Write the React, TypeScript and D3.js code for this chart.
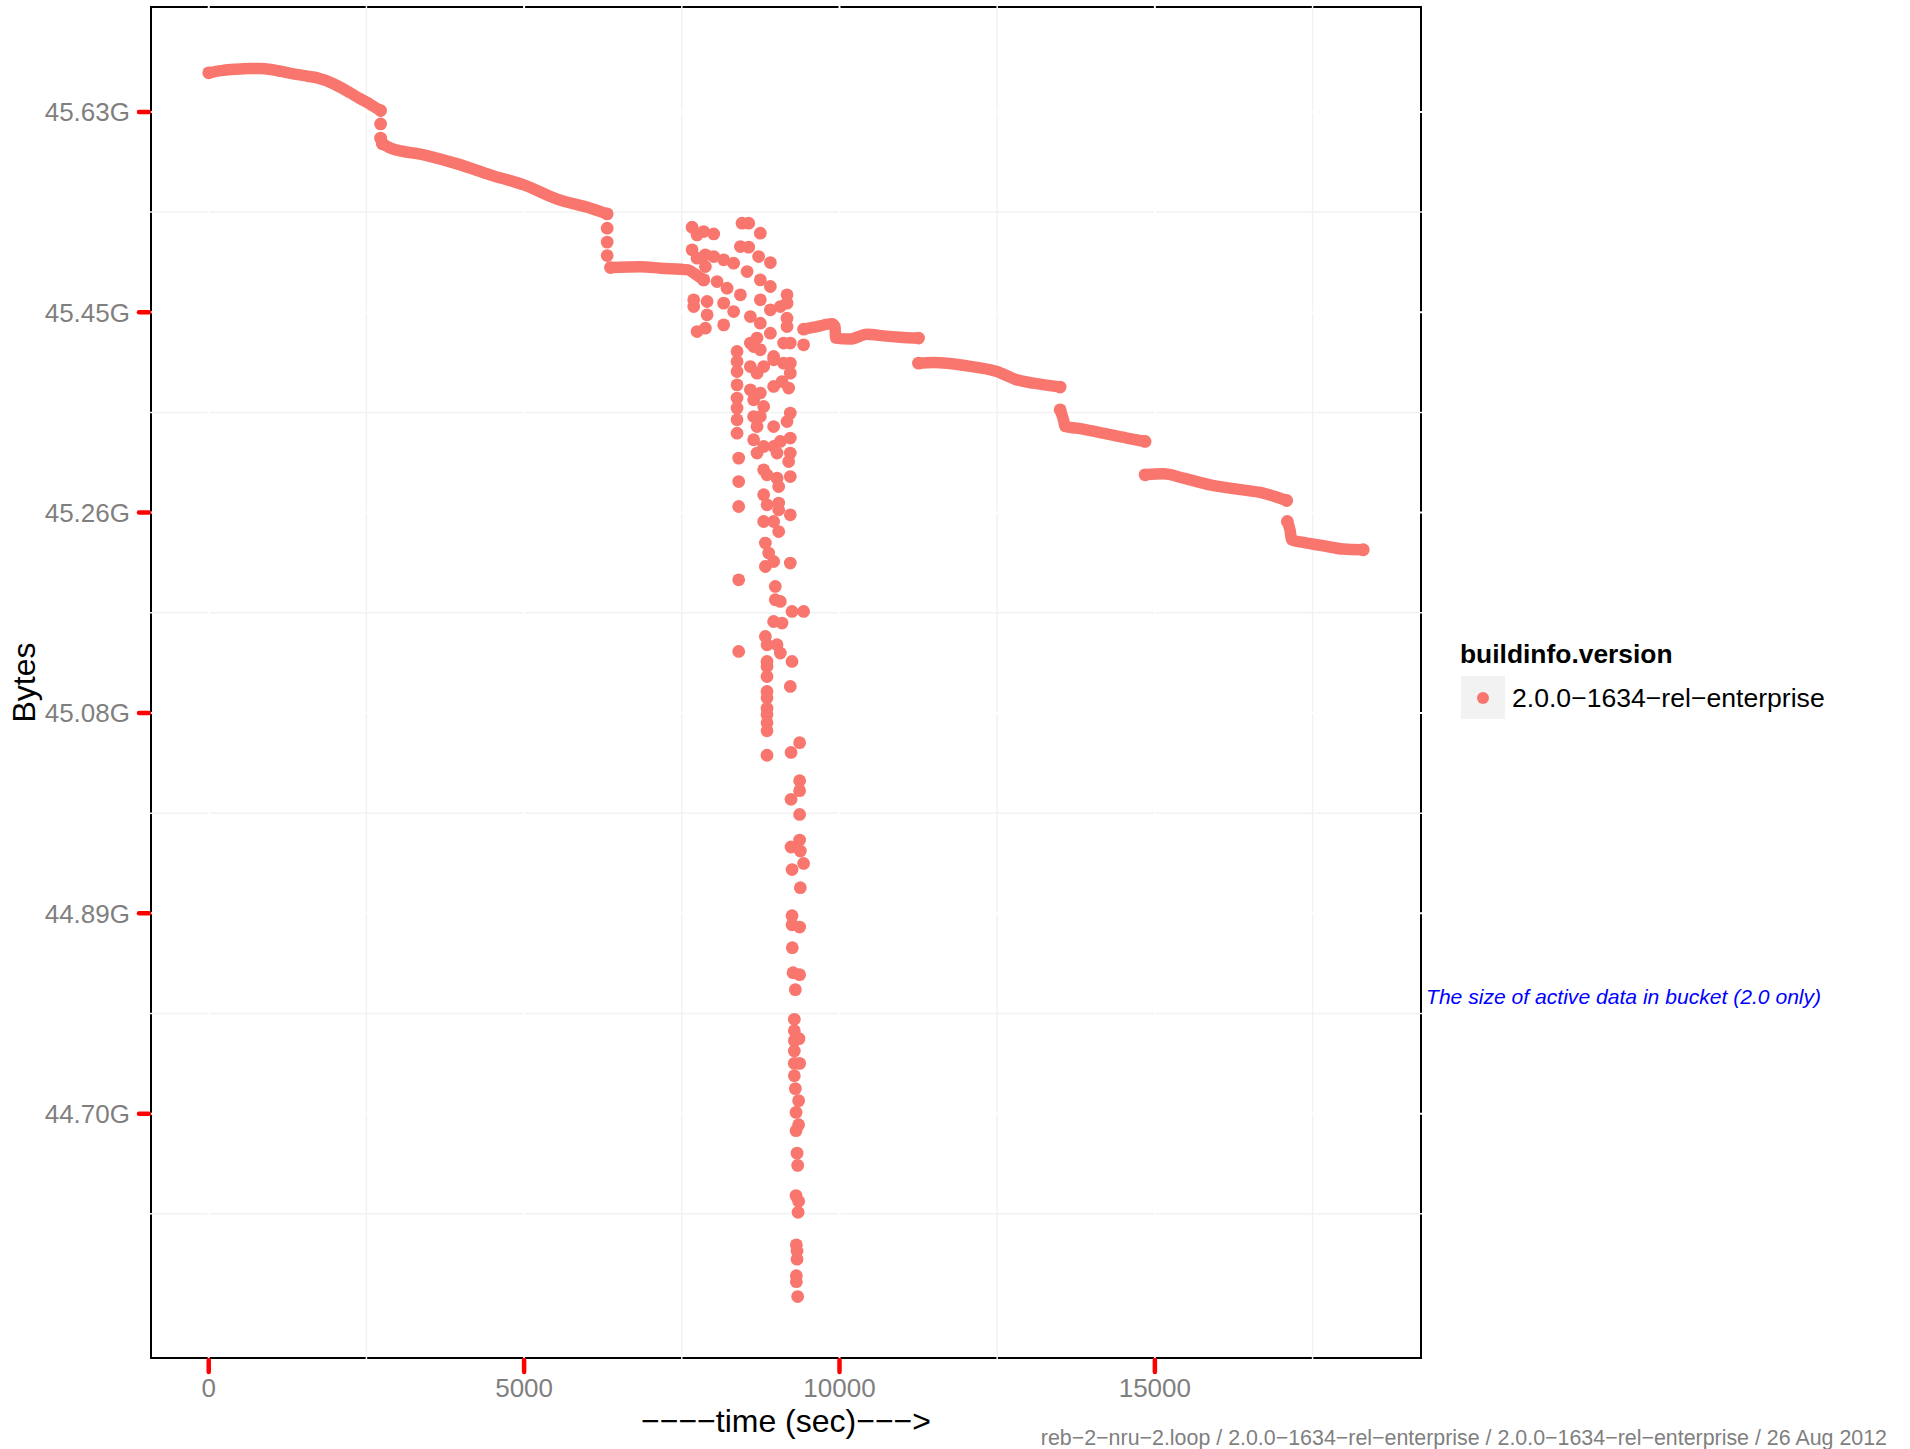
import React, { useEffect, useRef } from 'react';
import * as d3 from 'd3';

// time in seconds, value in 1e9 bytes
const trend1: [number, number][] = [
  [0, 49.039], [200, 49.0412], [349, 49.0422], [507, 49.0429], [665, 49.0434], [824, 49.0433],
  [982, 49.0424], [1299, 49.0384], [1564, 49.0356], [1722, 49.034], [1985, 49.0279], [2118, 49.0235],
  [2250, 49.0187], [2381, 49.0138], [2514, 49.0093], [2619, 49.0052], [2725, 49.0013],
];
const trend2: [number, number][] = [
  [2752, 48.9681], [2883, 48.9638], [3411, 48.9571], [3940, 48.9481], [4468, 48.9371],
  [4995, 48.9271], [5524, 48.9129], [6052, 48.9039], [6317, 48.8982],
];
const trend3: [number, number][] = [
  [6369, 48.8446], [6844, 48.8453], [7161, 48.844], [7605, 48.8423], [7684, 48.8393], [7847, 48.8323],
];
const trend4: [number, number][] = [
  [9431, 48.7831], [9644, 48.7857], [9881, 48.7884], [9930, 48.7857], [9938, 48.7742],
  [10171, 48.7732], [10436, 48.7781], [10699, 48.7764], [10963, 48.7751], [11253, 48.7742],
];
const trend5: [number, number][] = [
  [11253, 48.7492], [11491, 48.7498], [12020, 48.7465], [12495, 48.7408], [12812, 48.7325],
  [13075, 48.7292], [13498, 48.7253],
];
const trend6: [number, number][] = [
  [13498, 48.7026], [13551, 48.6926], [13578, 48.6859], [13763, 48.6843], [14132, 48.6799],
  [14555, 48.6744], [14845, 48.671],
];
const trend7: [number, number][] = [
  [14845, 48.6377], [15135, 48.6387], [15452, 48.6344], [15875, 48.6277], [16298, 48.6234],
  [16719, 48.6195], [17090, 48.6121],
];
const trend8: [number, number][] = [
  [17100, 48.5911], [17142, 48.5828], [17169, 48.5729], [17353, 48.5702], [17670, 48.5669],
  [17987, 48.5636], [18304, 48.5629],
];

// single samples between runs
const gapPoints: [number, number][] = [
  [2725, 48.988], [2725, 48.9738],
  [6317, 48.8839], [6317, 48.87], [6317, 48.8566],
  [9431, 48.7675],
];

// the rebalance burst around 7600-9400 s
const burstPoints: [number, number][] = [
  [7663, 48.8849], [7742, 48.8772], [7847, 48.8805], [8006, 48.8782], [8455, 48.8889], [8560, 48.8889],
  [8745, 48.8789], [7663, 48.8623], [7742, 48.854], [7874, 48.8573], [8006, 48.8556], [8164, 48.8523],
  [8322, 48.849], [8429, 48.8656], [8560, 48.865], [8718, 48.8556], [8904, 48.8496], [7874, 48.8456],
  [8535, 48.8406], [8745, 48.8323], [8904, 48.8257], [9168, 48.8174], [9168, 48.8091], [7847, 48.8323],
  [8059, 48.8306], [8218, 48.824], [8429, 48.8174], [8745, 48.8124], [8904, 48.8024], [9062, 48.8057],
  [7689, 48.8124], [7689, 48.8057], [7901, 48.8107], [7901, 48.7974], [8164, 48.8091], [8322, 48.8007],
  [8587, 48.7957], [8745, 48.7891], [8904, 48.7791], [9168, 48.7941], [9168, 48.7857], [7742, 48.7807],
  [7874, 48.7841], [8164, 48.7874], [8587, 48.7692], [8693, 48.7742], [9114, 48.7692], [9220, 48.7692],
  [8956, 48.7558], [8745, 48.7625], [8639, 48.7658], [9114, 48.7492], [9220, 48.7492], [9220, 48.7392],
  [8376, 48.7608], [8376, 48.7508], [8376, 48.7408], [8376, 48.7275], [8376, 48.7143], [8376, 48.7043],
  [8376, 48.6926], [8376, 48.6793], [8402, 48.6544], [8402, 48.631], [8402, 48.6061], [8402, 48.5329],
  [8402, 48.4614],
  [8587, 48.7458], [8693, 48.7392], [8798, 48.7458], [8587, 48.7226], [8639, 48.7126], [8745, 48.7193],
  [8798, 48.7059], [8639, 48.6959], [8693, 48.6859], [8745, 48.6959], [8639, 48.6727], [8693, 48.6594],
  [8798, 48.666], [8956, 48.6859], [8956, 48.7259], [8956, 48.7525], [9089, 48.7308], [9194, 48.7243],
  [9220, 48.6993], [9168, 48.6909], [9220, 48.6744], [9062, 48.671], [8956, 48.666], [9010, 48.6594],
  [9220, 48.6594], [9194, 48.651], [9220, 48.636], [8798, 48.6427], [8851, 48.6377], [9010, 48.6344],
  [9036, 48.626], [8798, 48.6178], [8851, 48.6078], [9036, 48.6095], [9036, 48.6028], [9220, 48.5978],
  [8798, 48.5911], [8956, 48.5911], [9036, 48.5811], [8825, 48.5696], [8877, 48.5596], [8956, 48.5512],
  [8825, 48.5462], [9220, 48.5496], [8982, 48.5263], [8982, 48.513], [9062, 48.5113], [9247, 48.5013],
  [9431, 48.5013], [8956, 48.4913], [9089, 48.4897], [8825, 48.4764], [8851, 48.4681], [9010, 48.4681],
  [9062, 48.4598], [8851, 48.4514], [8851, 48.4464], [9247, 48.4514], [8851, 48.4364], [9220, 48.4265],
  [8851, 48.4215], [8851, 48.4152], [8851, 48.4046], [8851, 48.3985], [8851, 48.3903], [8851, 48.3822],
  [8851, 48.3578],
  [9368, 48.3703], [9232, 48.3606], [9368, 48.3323], [9368, 48.3224], [9232, 48.3138], [9368, 48.2987],
  [9368, 48.2731], [9232, 48.2662], [9379, 48.2621], [9431, 48.2498], [9248, 48.2437], [9379, 48.2256],
  [9248, 48.1976], [9248, 48.1886], [9368, 48.1863], [9252, 48.1657], [9263, 48.1407], [9368, 48.1387],
  [9300, 48.1238], [9284, 48.0942], [9284, 48.0828], [9284, 48.0729], [9358, 48.0749], [9284, 48.0625],
  [9284, 48.0502], [9368, 48.0502], [9284, 48.0379], [9300, 48.025], [9352, 48.013], [9311, 48.0013],
  [9352, 47.989], [9311, 47.983], [9327, 47.9606], [9337, 47.9484], [9311, 47.9182], [9352, 47.9126],
  [9343, 47.9015], [9316, 47.869], [9327, 47.8629], [9327, 47.8547], [9316, 47.8383], [9316, 47.8323],
  [9337, 47.8174],
];

const runs = [trend1, trend2, trend3, trend4, trend5, trend6, trend7, trend8];

const xTicks = [0, 5000, 10000, 15000];
const xMinor = [2500, 7500, 12500, 17500];
const yTicks = [48.0, 48.2, 48.4, 48.6, 48.8, 49.0];
const yMinor = [47.9, 48.1, 48.3, 48.5, 48.7, 48.9];

const seriesName = '2.0.0\u22121634\u2212rel\u2212enterprise';
const caption = 'reb\u22122\u2212nru\u22122.loop / 2.0.0\u22121634\u2212rel\u2212enterprise / 2.0.0\u22121634\u2212rel\u2212enterprise / 26 Aug 2012';

const FONT = '"Liberation Sans", Arial, Helvetica, sans-serif';
const DOT = '#F8766D';

export default function App() {
  const svgRef = useRef<SVGSVGElement>(null);

  useEffect(() => {
    const width = 1910;
    const height = 1449;
    const panel = { left: 151, right: 1421, top: 7, bottom: 1358 };
    const r = 6.4;

    const svg = d3.select(svgRef.current);
    svg.selectAll('*').remove();
    svg.attr('width', width).attr('height', height);

    svg.append('rect').attr('width', width).attr('height', height).attr('fill', '#fff');

    const all = [...runs.flat(), ...gapPoints, ...burstPoints];
    const [t0, t1] = d3.extent(all, d => d[0]) as [number, number];
    const [v0, v1] = d3.extent(all, d => d[1]) as [number, number];
    const tPad = (t1 - t0) * 0.05;
    const vPad = (v1 - v0) * 0.05;

    const x = d3.scaleLinear().domain([t0 - tPad, t1 + tPad]).range([panel.left, panel.right]);
    const y = d3.scaleLinear().domain([v0 - vPad, v1 + vPad]).range([panel.bottom, panel.top]);

    // panel border
    svg.append('rect')
      .attr('x', panel.left).attr('y', panel.top)
      .attr('width', panel.right - panel.left).attr('height', panel.bottom - panel.top)
      .attr('fill', 'none').attr('stroke', '#000').attr('stroke-width', 2);

    // grid (drawn over the border, like the original)
    const grid = svg.append('g');
    grid.selectAll('.xmin').data(xMinor).join('line')
      .attr('x1', d => x(d)).attr('x2', d => x(d)).attr('y1', panel.top - 1).attr('y2', panel.bottom + 1)
      .attr('stroke', '#F2F2F2').attr('stroke-width', 1.5);
    grid.selectAll('.ymin').data(yMinor).join('line')
      .attr('y1', d => y(d)).attr('y2', d => y(d)).attr('x1', panel.left - 1).attr('x2', panel.right + 1)
      .attr('stroke', '#F2F2F2').attr('stroke-width', 1.5);
    grid.selectAll('.xmaj').data(xTicks).join('line')
      .attr('x1', d => x(d)).attr('x2', d => x(d)).attr('y1', panel.top - 1).attr('y2', panel.bottom + 1)
      .attr('stroke', '#fff').attr('stroke-width', 2);
    grid.selectAll('.ymaj').data(yTicks).join('line')
      .attr('y1', d => y(d)).attr('y2', d => y(d)).attr('x1', panel.left - 1).attr('x2', panel.right + 1)
      .attr('stroke', '#fff').attr('stroke-width', 2);

    // dense runs: overlapping samples read as a thick band
    const line = d3.line<[number, number]>().x(d => x(d[0])).y(d => y(d[1])).curve(d3.curveMonotoneX);
    svg.append('g').selectAll('path').data(runs).join('path')
      .attr('d', d => line(d))
      .attr('fill', 'none').attr('stroke', DOT).attr('stroke-width', r * 1.8)
      .attr('stroke-linecap', 'round').attr('stroke-linejoin', 'round');

    svg.append('g').selectAll('circle').data([...gapPoints, ...burstPoints]).join('circle')
      .attr('cx', d => x(d[0])).attr('cy', d => y(d[1])).attr('r', r).attr('fill', DOT);
    svg.append('g').selectAll('circle').data(runs.map(d => [d[0], d[d.length - 1]]).flat()).join('circle')
      .attr('cx', d => x(d[0])).attr('cy', d => y(d[1])).attr('r', r).attr('fill', DOT);

    // axes
    const axes = svg.append('g').attr('font-family', FONT);
    axes.selectAll('.yt').data(yTicks).join('line')
      .attr('x1', panel.left - 12).attr('x2', panel.left - 2)
      .attr('y1', d => y(d)).attr('y2', d => y(d))
      .attr('stroke', '#FF0000').attr('stroke-width', 4.5).attr('stroke-linecap', 'round');
    axes.selectAll('.yl').data(yTicks).join('text')
      .attr('x', 130).attr('y', d => y(d) + 9.3)
      .attr('text-anchor', 'end').attr('font-size', 26).attr('fill', '#7F7F7F')
      .text(d => (d * 1e9 / 2 ** 30).toFixed(2) + 'G');

    axes.selectAll('.xt').data(xTicks).join('line')
      .attr('x1', d => x(d)).attr('x2', d => x(d))
      .attr('y1', panel.bottom + 2).attr('y2', panel.bottom + 14)
      .attr('stroke', '#FF0000').attr('stroke-width', 4.5).attr('stroke-linecap', 'round');
    axes.selectAll('.xl').data(xTicks).join('text')
      .attr('x', d => x(d)).attr('y', 1397)
      .attr('text-anchor', 'middle').attr('font-size', 26).attr('fill', '#7F7F7F')
      .text(d => String(d));

    axes.append('text')
      .attr('x', (panel.left + panel.right) / 2).attr('y', 1432)
      .attr('text-anchor', 'middle').attr('font-size', 32).attr('fill', '#000')
      .text('\u2212\u2212\u2212\u2212time (sec)\u2212\u2212\u2212>');
    axes.append('text')
      .attr('transform', `translate(35,${(panel.top + panel.bottom) / 2}) rotate(-90)`)
      .attr('text-anchor', 'middle').attr('font-size', 32).attr('fill', '#000')
      .text('Bytes');

    // legend
    const lg = svg.append('g').attr('font-family', FONT);
    lg.append('text').attr('x', 1460).attr('y', 663)
      .attr('font-size', 26.4).attr('font-weight', 'bold').attr('fill', '#000')
      .text('buildinfo.version');
    lg.append('rect').attr('x', 1461).attr('y', 676).attr('width', 44).attr('height', 43).attr('fill', '#F2F2F2');
    lg.append('circle').attr('cx', 1483).attr('cy', 698).attr('r', 6).attr('fill', DOT);
    lg.append('text').attr('x', 1512).attr('y', 707)
      .attr('font-size', 26.6).attr('fill', '#000').text(seriesName);

    // notes
    svg.append('text').attr('x', 1426).attr('y', 1004)
      .attr('font-family', FONT).attr('font-size', 21.1).attr('font-style', 'italic').attr('fill', '#0000FF')
      .text('The size of active data in bucket (2.0 only)');
    svg.append('text').attr('x', 1887).attr('y', 1445)
      .attr('font-family', FONT).attr('font-size', 21.4).attr('text-anchor', 'end').attr('fill', '#7F7F7F')
      .text(caption);
  }, []);

  return <svg ref={svgRef} style={{ position: 'absolute', left: 0, top: 0, display: 'block' }} />;
}
